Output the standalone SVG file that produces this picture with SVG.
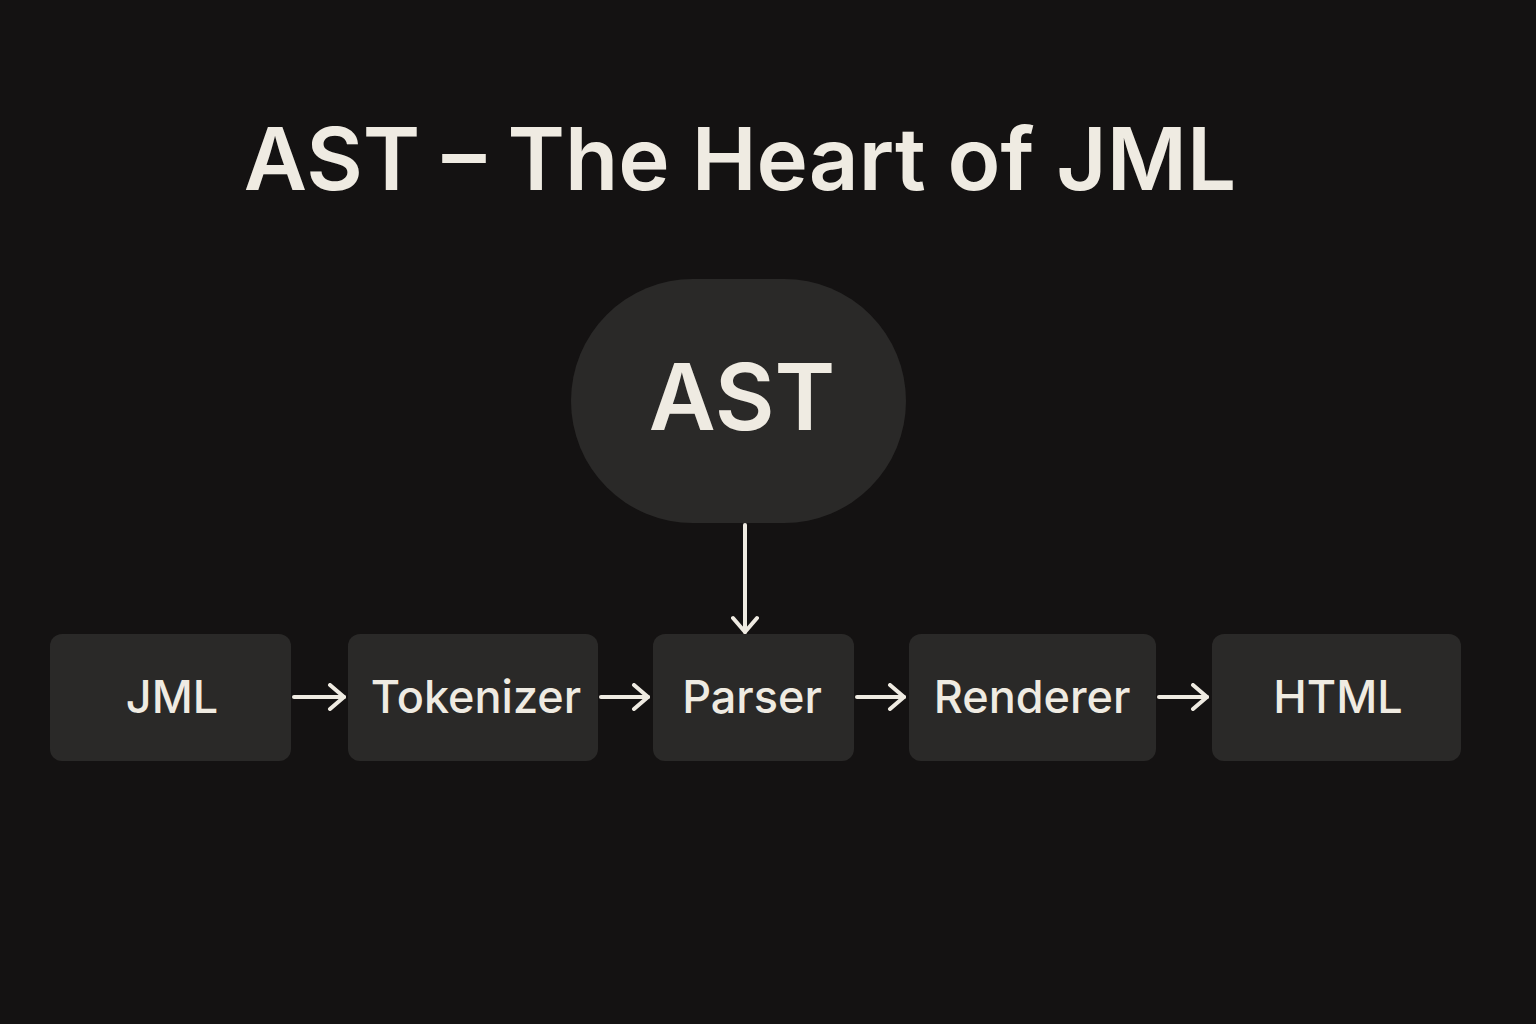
<svg xmlns="http://www.w3.org/2000/svg" width="1536" height="1024" viewBox="0 0 1536 1024">
<style>
.box{fill:#2a2928}
.t{font-family:Inter,"Noto Sans",sans-serif;fill:#efebe2;text-anchor:middle}
.lbl{font-size:45px;font-weight:500}
.c{stroke:#efebe2;stroke-width:4;fill:none;stroke-linecap:round;stroke-linejoin:round}
</style>
<defs>
<marker id="a" viewBox="0 0 24 28" refX="22" refY="14" markerWidth="24" markerHeight="28" markerUnits="userSpaceOnUse" orient="auto">
<path d="M8 2 L22 14 L8 26" fill="none" stroke="#efebe2" stroke-width="4" stroke-linecap="round" stroke-linejoin="round"/>
</marker>
</defs>
<rect width="1536" height="1024" fill="#141212"/>
<text class="t" x="740" y="190" font-size="87" font-weight="600">AST – The Heart of JML</text>
<g id="ast"><rect class="box" x="571" y="279" width="335" height="244" rx="122" fill="#2c2b2a"/><text class="t" x="742" y="430" font-size="92" font-weight="600">AST</text></g>
<g id="jml"><rect class="box" x="50" y="634" width="241" height="127" rx="12"/><text class="t lbl" x="172" y="713">JML</text></g>
<g id="tokenizer"><rect class="box" x="348" y="634" width="250" height="127" rx="12"/><text class="t lbl" x="476" y="713">Tokenizer</text></g>
<g id="parser"><rect class="box" x="653" y="634" width="201" height="127" rx="12"/><text class="t lbl" x="752" y="713">Parser</text></g>
<g id="renderer"><rect class="box" x="909" y="634" width="247" height="127" rx="12"/><text class="t lbl" x="1032" y="713">Renderer</text></g>
<g id="html"><rect class="box" x="1212" y="634" width="249" height="127" rx="12"/><text class="t lbl" x="1338" y="713">HTML</text></g>
<g id="connectors">
<path class="c" d="M745 525 V632" marker-end="url(#a)"/>
<path class="c" d="M294 697 H344" marker-end="url(#a)"/>
<path class="c" d="M601 697 H648" marker-end="url(#a)"/>
<path class="c" d="M857 697 H904" marker-end="url(#a)"/>
<path class="c" d="M1159 697 H1207" marker-end="url(#a)"/>
</g>
</svg>
